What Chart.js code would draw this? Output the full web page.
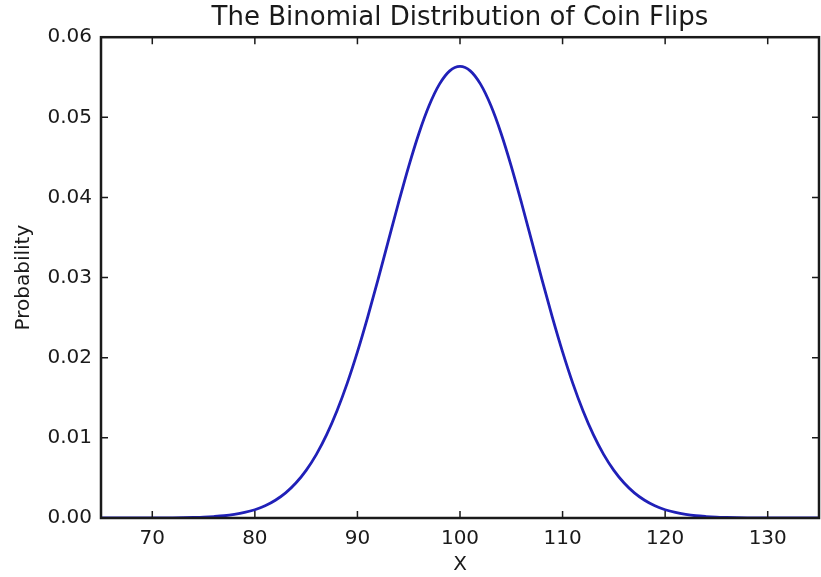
<!DOCTYPE html>
<html>
<head>
<meta charset="utf-8">
<script src="https://cdn.jsdelivr.net/npm/chart.js@4/dist/chart.umd.min.js"></script>
<style>
  body { margin: 0; background: #fff; }
  canvas { display: block; }
</style>
</head>
<body>
<canvas id="coinChart" width="821" height="577"></canvas>
<script>
// number of heads in 200 flips
const flips = [65, 66, 67, 68, 69, 70, 71, 72, 73, 74, 75, 76, 77, 78, 79, 80,
    81, 82, 83, 84, 85, 86, 87, 88, 89, 90, 91, 92, 93, 94, 95, 96, 97, 98, 99, 100,
    101, 102, 103, 104, 105, 106, 107, 108, 109, 110, 111, 112, 113, 114, 115, 116, 117, 118, 119, 120,
    121, 122, 123, 124, 125, 126, 127, 128, 129, 130, 131, 132, 133, 134, 135];
const probs = [0, 0, 0, 0, 0, 0, 0.00001, 0.00002, 0.00004, 0.00007, 0.00011, 0.00018, 0.00028, 0.00045, 0.00069, 0.00103,
    0.00152, 0.00221, 0.00313, 0.00436, 0.00594, 0.00794, 0.01040, 0.01335, 0.01680, 0.02073,
    0.02507, 0.02971, 0.03452, 0.03931, 0.04389, 0.04802, 0.05150, 0.05414, 0.05580, 0.05635,
    0.05580, 0.05414, 0.05150, 0.04802, 0.04389, 0.03931, 0.03452, 0.02971, 0.02507, 0.02073,
    0.01680, 0.01335, 0.01040, 0.00794, 0.00594, 0.00436, 0.00313, 0.00221, 0.00152, 0.00103,
    0.00069, 0.00045, 0.00028, 0.00018, 0.00011, 0.00007, 0.00004, 0.00002, 0.00001, 0, 0, 0, 0, 0, 0];
const xTicks = [70, 80, 90, 100, 110, 120, 130];
const yTicks = [0, 0.01, 0.02, 0.03, 0.04, 0.05, 0.06];

const font = "'DejaVu Sans', sans-serif";
const ink = "#1a1a1a";

// matplotlib style box with ticks pointing inwards
const frame = {
    id: "frame",
    afterDatasetsDraw(chart) {
        const { ctx, chartArea: a, scales } = chart;
        ctx.save();
        ctx.strokeStyle = ink;
        ctx.lineWidth = 2.5;
        ctx.strokeRect(a.left, a.top, a.right - a.left, a.bottom - a.top);
        ctx.lineWidth = 1.5;
        ctx.beginPath();
        xTicks.forEach(v => {
            let px = scales.x.getPixelForValue(v);
            ctx.moveTo(px, a.bottom); ctx.lineTo(px, a.bottom - 7);
            ctx.moveTo(px, a.top); ctx.lineTo(px, a.top + 7);
        });
        yTicks.forEach(v => {
            let py = scales.y.getPixelForValue(v);
            ctx.moveTo(a.left, py); ctx.lineTo(a.left + 7, py);
            ctx.moveTo(a.right, py); ctx.lineTo(a.right - 7, py);
        });
        ctx.stroke();
        ctx.restore();
    }
};

let ctx = document.getElementById("coinChart").getContext("2d");
new Chart(ctx, {
    type: "line",
    data: {
        datasets: [{
            data: flips.map((x, i) => ({ x: x, y: probs[i] })),
            borderColor: "#2020b8",
            borderWidth: 2.8,
            pointRadius: 0,
            cubicInterpolationMode: "monotone"
        }]
    },
    options: {
        responsive: false,
        animation: false,
        layout: { padding: { right: 2 } },
        plugins: {
            legend: { display: false },
            tooltip: { enabled: false },
            title: {
                display: true,
                fullSize: false,
                text: "The Binomial Distribution of Coin Flips",
                color: ink,
                font: { family: font, size: 26, weight: "normal" },
                padding: { top: 3, bottom: 3 }
            }
        },
        scales: {
            x: {
                type: "linear",
                min: 65,
                max: 135,
                afterBuildTicks: s => { s.ticks = xTicks.map(v => ({ value: v })); },
                afterFit: s => { s.height = 59; },
                grid: { display: false, drawTicks: false },
                border: { display: false },
                ticks: { color: ink, padding: 9, font: { family: font, size: 20 } },
                title: {
                    display: true, text: "X", color: ink,
                    font: { family: font, size: 20 }, padding: { top: 0, bottom: 0 }
                }
            },
            y: {
                min: 0,
                max: 0.06,
                afterBuildTicks: s => { s.ticks = yTicks.map(v => ({ value: v })); },
                afterFit: s => { s.width = 101; },
                grid: { display: false, drawTicks: false },
                border: { display: false },
                ticks: {
                    color: ink, padding: 9, font: { family: font, size: 20 },
                    callback: v => v.toFixed(2)
                },
                title: {
                    display: true, text: "Probability", color: ink,
                    font: { family: font, size: 20 }, padding: { top: 12, bottom: 0 }
                }
            }
        }
    },
    plugins: [frame]
});
</script>
</body>
</html>
